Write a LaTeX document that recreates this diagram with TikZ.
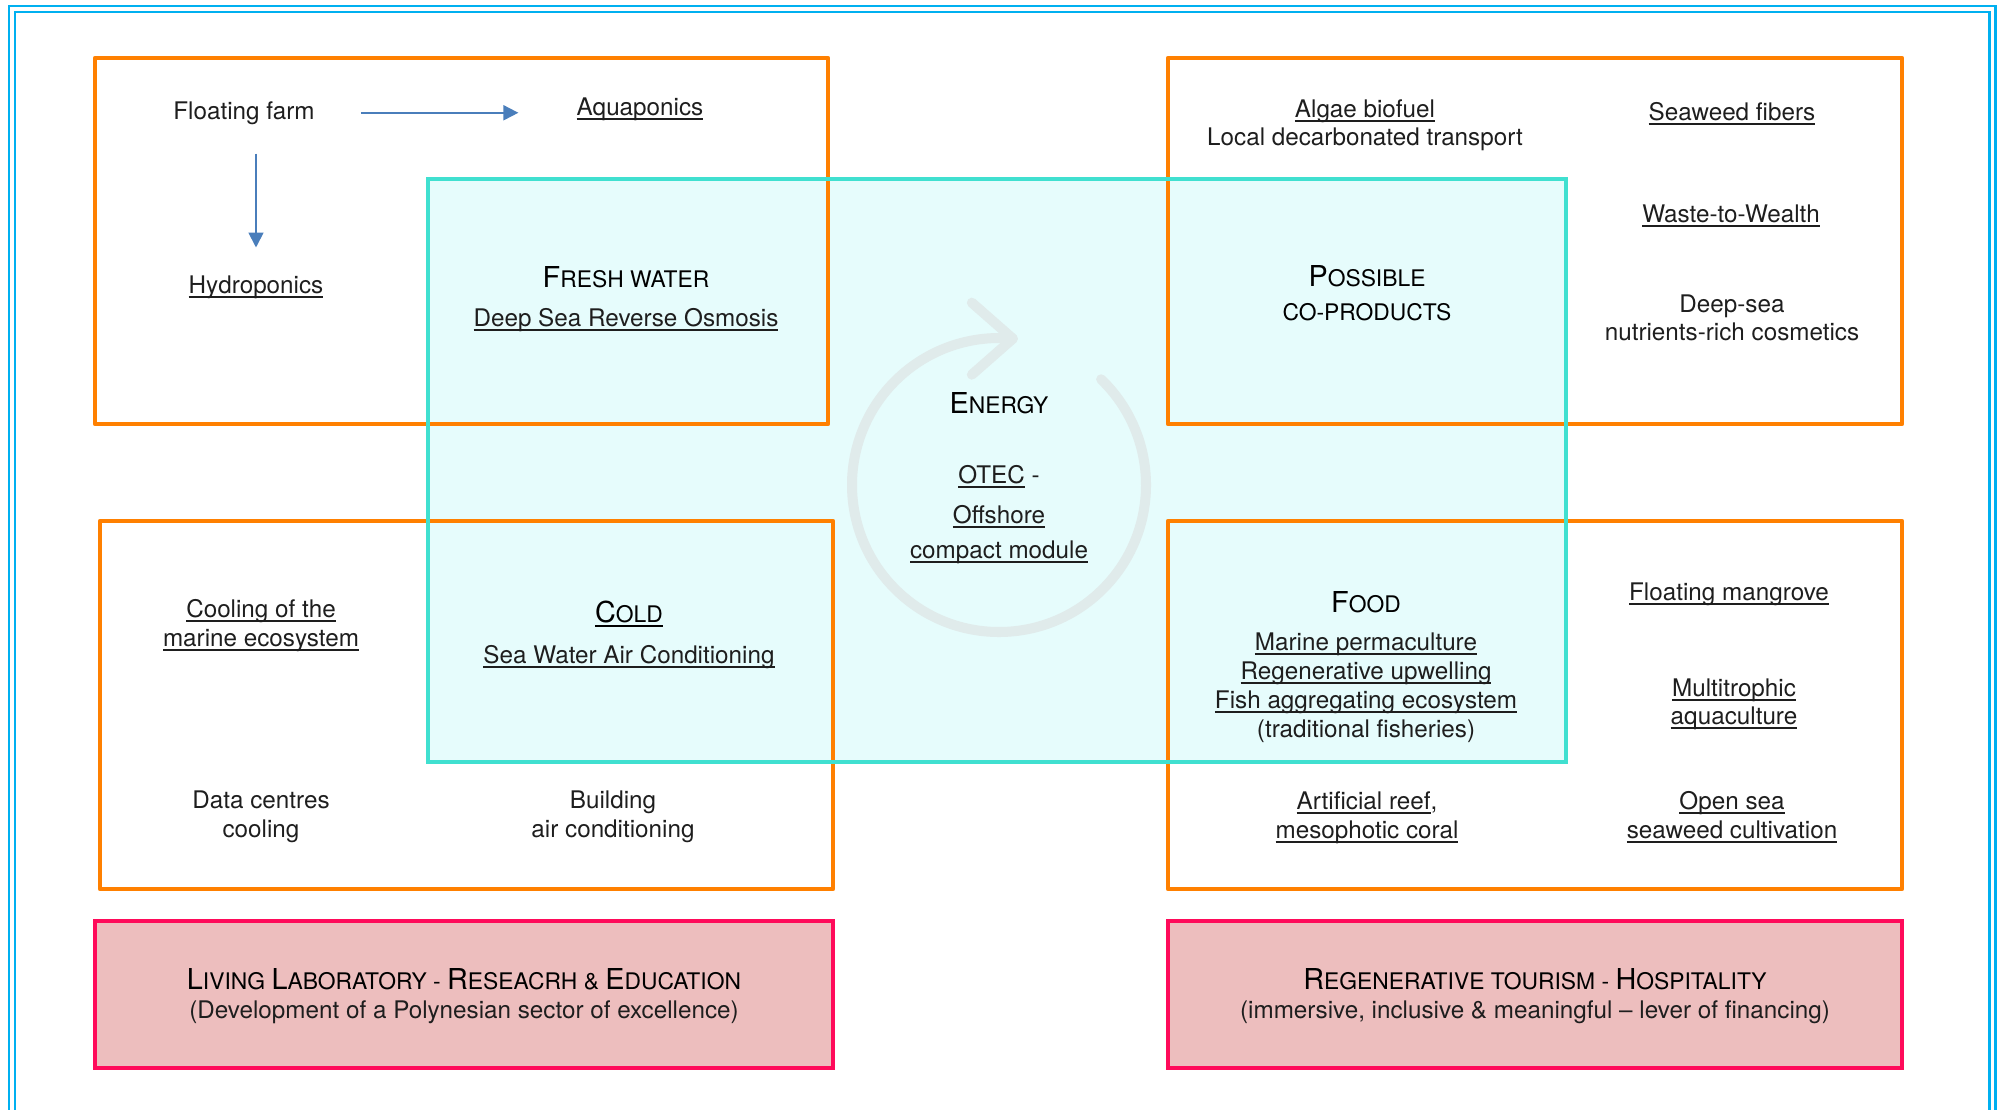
\documentclass[tikz,border=0pt]{standalone}
\usepackage{fontspec}
\setmainfont{TeX Gyre Heros}
\usepackage{tikz}
\usetikzlibrary{calc}
\usetikzlibrary{arrows.meta}

\definecolor{frameblue}{RGB}{0,176,240}
\definecolor{boxorange}{RGB}{255,128,0}
\definecolor{coreline}{RGB}{64,224,208}
\definecolor{corefill}{RGB}{230,252,252}
\definecolor{pinkline}{RGB}{255,10,90}
\definecolor{pinkfill}{RGB}{237,190,190}
\definecolor{linkblue}{RGB}{74,126,187}
\definecolor{ringgrey}{RGB}{224,235,235}
\definecolor{txtgrey}{RGB}{30,30,30}

\newcommand{\undl}[1]{\setbox0=\hbox{#1}\rlap{\rule[-2.9pt]{\wd0}{1.2pt}}\box0\relax}
\newcommand{\capl}[1]{{\fontsize{16.4}{19}\selectfont #1}}

\tikzset{
  txt/.style={font=\fontsize{13.8}{16}\selectfont, text=txtgrey, anchor=base, inner sep=0pt},
  hd/.style={font=\fontsize{13}{16}\selectfont, text=black, anchor=base, inner sep=0pt},
  quad/.style={draw=boxorange, line width=2.6pt, line join=round},
  band/.style={draw=pinkline, fill=pinkfill, line width=2.2pt},
  ring/.style={draw=ringgrey, line width=5.7pt, line cap=round, line join=round},
  link/.style={draw=linkblue, line width=1.1pt, -{Triangle[length=8.5pt,width=8.5pt]}}
}

\begin{document}
\begin{tikzpicture}[x=0.02cm, y=-0.02cm]
	\useasboundingbox (0,0) rectangle (2004,1109);
	\draw[frameblue, line width=1.4pt, double=white, double distance=2pt] (12,1130) -- (12,9) -- (1992.5,9) -- (1992.5,1130);

	% central block and the energy loop
	\fill[corefill] (428,179) rectangle (1566,762);
	\coordinate (hub) at (999,485);
	\coordinate (tip) at ($(hub)+(275.4:147)$);
	\draw[ring] ($(hub)+(-46:147)$) arc[start angle=-46, end angle=275.4, radius=147];
	\draw[ring] ($(tip)+(-41,-36)$) -- (tip) -- ($(tip)+(-41,36)$);

	\draw[quad] (95,58) rectangle (828,424);
	\draw[quad] (1168,58) rectangle (1902,424);
	\draw[quad] (100,521) rectangle (833,889);
	\draw[quad] (1168,521) rectangle (1902,889);
	\draw[coreline, line width=2.6pt] (428,179) rectangle (1566,762);

	\draw[band] (95,921) rectangle (833,1068);
	\draw[band] (1168,921) rectangle (1902,1068);

	% fresh water corner
	\node[txt] (farm) at (244,119) {Floating farm};
	\node[txt] (aqua) at (640,115) {\undl{Aquaponics}};
	\node[txt] (hydro) at (256,293) {\undl{Hydroponics}};
	\node[hd] (fresh) at (626,287) {\capl{F}RESH WATER};
	\node[txt] (osmo) at (626,326) {\undl{Deep Sea Reverse Osmosis}};

	\draw[link, shorten <=0.92cm, shorten >=1.16cm] (farm.east) -- (aqua.west |- farm.east);
	\draw[link, shorten <=0.58cm, shorten >=0.55cm] (hydro.north |- farm.south) -- (hydro.north);

	% energy
	\node[hd] (energy) at (999,413) {\capl{E}NERGY};
	\node[txt] (otec) at (999,483) {\undl{OTEC} -};
	\node[txt] (offs) at (999,523) {\undl{Offshore}};
	\node[txt] (modu) at (999,558) {\undl{compact module}};

	% co-products corner
	\node[txt] (algae) at (1365,117) {\undl{Algae biofuel}};
	\node[txt] (trans) at (1365,145) {Local decarbonated transport};
	\node[txt] (fibers) at (1732,120) {\undl{Seaweed fibers}};
	\node[txt] (waste) at (1731,222) {\undl{Waste-to-Wealth}};
	\node[txt] (deep1) at (1732,312) {Deep-sea};
	\node[txt] (deep2) at (1732,340) {nutrients-rich cosmetics};
	\node[hd] (poss1) at (1367,286) {\capl{P}OSSIBLE};
	\node[hd] (poss2) at (1367,320) {CO-PRODUCTS};

	% food corner
	\node[hd] (food) at (1366,612) {\capl{F}OOD};
	\node[txt] (food1) at (1366,650) {\undl{Marine permaculture}};
	\node[txt] (food2) at (1366,679) {\undl{Regenerative upwelling}};
	\node[txt] (food3) at (1366,708) {\undl{Fish aggregating ecosystem}};
	\node[txt] (food4) at (1366,737) {(traditional fisheries)};
	\node[txt] (mang) at (1729,600) {\undl{Floating mangrove}};
	\node[txt] (multi1) at (1734,696) {\undl{Multitrophic}};
	\node[txt] (multi2) at (1734,724) {\undl{aquaculture}};
	\node[txt] (reef1) at (1367,809) {\undl{Artificial reef},};
	\node[txt] (reef2) at (1367,838) {\undl{mesophotic coral}};
	\node[txt] (open1) at (1732,809) {\undl{Open sea}};
	\node[txt] (open2) at (1732,838) {\undl{seaweed cultivation}};

	% cold corner
	\node[txt] (cool1) at (261,617) {\undl{Cooling of the}};
	\node[txt] (cool2) at (261,646) {\undl{marine ecosystem}};
	\node[hd] (cold) at (629,622) {\undl{\capl{C}OLD}};
	\node[txt] (swac) at (629,663) {\undl{Sea Water Air Conditioning}};
	\node[txt] (data1) at (261,808) {Data centres};
	\node[txt] (data2) at (261,837) {cooling};
	\node[txt] (bldg1) at (613,808) {Building};
	\node[txt] (bldg2) at (613,837) {air conditioning};

	% bottom bands
	\node[hd] (lab) at (464,989) {\capl{L}IVING \capl{L}ABORATORY - \capl{R}ESEACRH \& \capl{E}DUCATION};
	\node[txt] (labsub) at (464,1018) {(Development of a Polynesian sector of excellence)};
	\node[hd] (tour) at (1535,989) {\capl{R}EGENERATIVE TOURISM - \capl{H}OSPITALITY};
	\node[txt] (toursub) at (1535,1018) {(immersive, inclusive \& meaningful – lever of financing)};
\end{tikzpicture}
\end{document}
